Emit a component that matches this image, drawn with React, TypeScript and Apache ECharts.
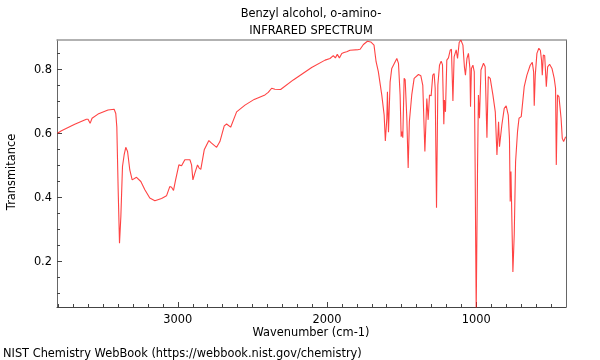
import React, { useEffect, useRef } from "react";
import * as echarts from "echarts";

const wavenumbers = [
  3807, 3780, 3691, 3613, 3602, 3588, 3575, 3535, 3468, 3427, 3416, 3409, 3400, 3391, 3382, 3371, 3360, 3349, 3337,
  3322, 3306, 3277, 3248, 3221, 3188, 3154, 3109, 3076, 3054, 3042, 3029, 3015, 2993, 2975, 2953, 2919, 2908, 2899,
  2886, 2868, 2857, 2846, 2823, 2792, 2774, 2740, 2718, 2689, 2673, 2646, 2606, 2550, 2488, 2416, 2394, 2371, 2349,
  2311, 2226, 2103, 2013, 1980, 1958, 1944, 1931, 1917, 1901, 1886, 1868, 1846, 1790, 1778, 1756, 1729, 1707, 1685,
  1671, 1656, 1633, 1617, 1609, 1599, 1595, 1588, 1577, 1566, 1532, 1521, 1510, 1503, 1497, 1492, 1483, 1476, 1465,
  1456, 1448, 1432, 1416, 1387, 1371, 1358, 1344, 1331, 1322, 1313, 1302, 1291, 1282, 1275, 1266, 1257, 1246, 1235,
  1226, 1217, 1213, 1206, 1197, 1186, 1174, 1166, 1156, 1148, 1134, 1125, 1114, 1103, 1089, 1079, 1072, 1062, 1052,
  1042, 1038, 1032, 1022, 1013, 1007, 1000, 991, 985, 978, 968, 951, 940, 928, 919, 906, 888, 872, 861, 850, 844, 828,
  812, 799, 785, 777, 772, 767, 758, 754, 745, 736, 723, 713, 698, 678, 660, 638, 624, 615, 611, 604, 593, 580, 570,
  562, 557, 550, 541, 535, 530, 521, 508, 492, 477, 468, 463, 455, 445, 431, 423, 414, 400,
];

const transmittance = [
  0.6, 0.608, 0.628, 0.644, 0.644, 0.631, 0.647, 0.66, 0.673, 0.675, 0.662, 0.62, 0.423, 0.256, 0.339, 0.496, 0.532,
  0.556, 0.543, 0.485, 0.454, 0.462, 0.449, 0.423, 0.397, 0.389, 0.396, 0.404, 0.433, 0.431, 0.421, 0.454, 0.501,
  0.498, 0.517, 0.517, 0.501, 0.454, 0.475, 0.501, 0.491, 0.487, 0.548, 0.577, 0.569, 0.556, 0.574, 0.623, 0.629,
  0.619, 0.667, 0.688, 0.706, 0.72, 0.728, 0.741, 0.738, 0.737, 0.767, 0.806, 0.829, 0.834, 0.843, 0.836, 0.847,
  0.836, 0.85, 0.853, 0.855, 0.86, 0.862, 0.863, 0.878, 0.888, 0.886, 0.876, 0.824, 0.793, 0.72, 0.657, 0.576, 0.647,
  0.73, 0.603, 0.761, 0.803, 0.834, 0.819, 0.72, 0.589, 0.605, 0.586, 0.772, 0.767, 0.647, 0.491, 0.636, 0.72, 0.772,
  0.784, 0.78, 0.75, 0.543, 0.709, 0.642, 0.72, 0.717, 0.782, 0.787, 0.741, 0.367, 0.751, 0.813, 0.826, 0.815, 0.628,
  0.704, 0.667, 0.829, 0.836, 0.86, 0.863, 0.701, 0.839, 0.861, 0.834, 0.884, 0.892, 0.876, 0.808, 0.782, 0.834,
  0.85, 0.803, 0.683, 0.803, 0.813, 0.792, 0.491, 0.04, 0.491, 0.72, 0.647, 0.798, 0.819, 0.808, 0.586, 0.777,
  0.772, 0.72, 0.667, 0.532, 0.636, 0.558, 0.626, 0.678, 0.686, 0.657, 0.584, 0.386, 0.48, 0.261, 0.166, 0.282,
  0.511, 0.605, 0.647, 0.652, 0.746, 0.782, 0.813, 0.822, 0.792, 0.686, 0.782, 0.85, 0.866, 0.86, 0.829, 0.782,
  0.845, 0.843, 0.792, 0.746, 0.808, 0.816, 0.803, 0.772, 0.741, 0.501, 0.72, 0.714, 0.647, 0.584, 0.574, 0.589,
];

const xMajorTicks = [1000, 2000, 3000];
const xMinorTicks = [500, 600, 700, 800, 900, 1100, 1200, 1300, 1400, 1500, 1600, 1700, 1800, 1900, 2100, 2200, 2300, 2400, 2500, 2600, 2700, 2800, 2900, 3100, 3200, 3300, 3400, 3500, 3600, 3700, 3800];
const yMajorTicks = [0.2, 0.4, 0.6, 0.8];
const yMinorTicks = [0.1, 0.15, 0.25, 0.3, 0.35, 0.45, 0.5, 0.55, 0.65, 0.7, 0.75, 0.85];

const titleLine1 = "Benzyl alcohol, o-amino-";
const titleLine2 = "INFRARED SPECTRUM";
const xName = "Wavenumber (cm-1)";
const yName = "Transmitance";
const footer = "NIST Chemistry WebBook (https://webbook.nist.gov/chemistry)";

const FONT = "DejaVu Sans";
const FS = 11.4;

export default function App() {
  const ref = useRef<HTMLDivElement>(null);
  useEffect(() => {
    if (!ref.current) return;
    const chart = echarts.init(ref.current, undefined, { renderer: "svg" });
    const data = wavenumbers.map((w, i) => [w, transmittance[i]]);
    const xRange = { min: 398, max: 3810, inverse: true, type: "value" as const };
    const yRange = { min: 0.056, max: 0.892, type: "value" as const };
    chart.setOption({
      animation: false,
      textStyle: { fontFamily: FONT },
      grid: { left: 57, right: 34, top: 40, bottom: 53 },
      xAxis: [
        {
          ...xRange,
          position: "bottom",
          axisLine: { lineStyle: { color: "#444", width: 1 } },
          axisTick: { inside: true, length: 5, customValues: xMajorTicks, lineStyle: { color: "#444" } },
          axisLabel: {
            customValues: xMajorTicks,
            formatter: (v: number) => String(v),
            color: "#000",
            fontSize: FS,
            fontFamily: FONT,
            margin: 6,
          },
          splitLine: { show: false },
        },
        {
          ...xRange,
          position: "bottom",
          axisLine: { show: false },
          axisTick: { inside: true, length: 3, customValues: xMinorTicks, lineStyle: { color: "#444" } },
          axisLabel: { show: false },
          splitLine: { show: false },
        },
        {
          ...xRange,
          position: "top",
          axisLine: { lineStyle: { color: "#999", width: 1.5 } },
          axisTick: { show: false },
          axisLabel: { show: false },
          splitLine: { show: false },
        },
      ],
      yAxis: [
        {
          ...yRange,
          position: "left",
          axisLine: { show: true, lineStyle: { color: "#666", width: 1 } },
          axisTick: { show: true, inside: true, length: 5, customValues: yMajorTicks, lineStyle: { color: "#444" } },
          axisLabel: {
            customValues: yMajorTicks,
            formatter: (v: number) => String(v),
            color: "#000",
            fontSize: FS,
            fontFamily: FONT,
            margin: 5,
          },
          splitLine: { show: false },
        },
        {
          ...yRange,
          position: "left",
          axisLine: { show: false },
          axisTick: { show: true, inside: true, length: 3, customValues: yMinorTicks, lineStyle: { color: "#444" } },
          axisLabel: { show: false },
          splitLine: { show: false },
        },
        {
          ...yRange,
          position: "right",
          axisLine: { show: true, lineStyle: { color: "#666", width: 1 } },
          axisTick: { show: false },
          axisLabel: { show: false },
          splitLine: { show: false },
        },
      ],
      series: [
        {
          type: "line",
          xAxisIndex: 0,
          yAxisIndex: 0,
          data,
          showSymbol: false,
          symbol: "none",
          clip: true,
          lineStyle: { color: "rgba(255,20,20,0.8)", width: 1.1 },
        },
      ],
      graphic: [
        { type: "text", x: 311, y: 13, style: { text: titleLine1, font: `${FS}px ${FONT}`, fill: "#000", textAlign: "center", textVerticalAlign: "middle" } },
        { type: "text", x: 311, y: 30, style: { text: titleLine2, font: `${FS}px ${FONT}`, fill: "#000", textAlign: "center", textVerticalAlign: "middle" } },
        { type: "text", x: 311, y: 332, style: { text: xName, font: `${FS}px ${FONT}`, fill: "#000", textAlign: "center", textVerticalAlign: "middle" } },
        { type: "text", x: 11, y: 172, rotation: Math.PI / 2, style: { text: yName, font: `${FS}px ${FONT}`, fill: "#000", textAlign: "center", textVerticalAlign: "middle" } },
        { type: "text", x: 3, y: 353, style: { text: footer, font: `${FS}px ${FONT}`, fill: "#000", textAlign: "left", textVerticalAlign: "middle" } },
      ],
    });
    return () => chart.dispose();
  }, []);
  return <div ref={ref} style={{ width: 600, height: 360, position: "fixed", left: 0, top: 0 }} />;
}
